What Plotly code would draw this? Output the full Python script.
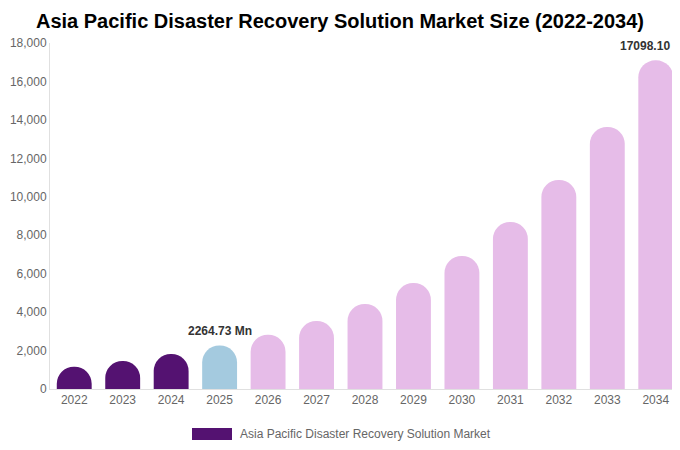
import plotly.graph_objects as go

# market size by year, USD million
years = ["2022", "2023", "2024", "2025", "2026", "2027", "2028",
         "2029", "2030", "2031", "2032", "2033", "2034"]
market_size = [1160, 1457, 1821, 2264.73, 2825, 3538, 4422,
               5515, 6920, 8689, 10874, 13632, 17098.10]

# years that get a value label above the bar
labelled_years = ["2025", "2034"]

series_name = "Asia Pacific Disaster Recovery Solution Market"

# historical years dark purple, base year light blue, forecast pink
bar_colors = []
for y in years:
    if int(y) < 2025:
        bar_colors.append("#541271")
    elif y == "2025":
        bar_colors.append("#A4CADF")
    else:
        bar_colors.append("#E6BCE8")

fig = go.Figure()

fig.add_trace(go.Bar(
    x=years,
    y=market_size,
    name=series_name,
    marker=dict(color=bar_colors, cornerradius="50%", line=dict(width=0)),
    showlegend=False,
    hovertemplate="%{x}: %{y:,.2f} Mn<extra></extra>"
))

# value labels above selected bars (x given as category index, since
# a year string would be read as the number 2025 on the category axis)
for i, (yr, val) in enumerate(zip(years, market_size)):
    if yr in labelled_years:
        fig.add_annotation(
            x=i, y=val, text=f"<b>{val:.2f} Mn</b>",
            showarrow=False, yanchor="bottom", yshift=5,
            font=dict(size=12, color="#333333")
        )

# custom legend: wide swatch plus label below the chart
fig.add_shape(type="rect", xref="paper", yref="paper",
              x0=(192 - 50) / 630, x1=(232 - 50) / 630,
              y0=-(440 - 389) / 346, y1=-(428 - 389) / 346,
              fillcolor="#541271", line=dict(width=0))
fig.add_annotation(xref="paper", yref="paper",
                   x=(238 - 50) / 630, y=-(434 - 389) / 346,
                   text=series_name, showarrow=False,
                   xanchor="left", yanchor="middle",
                   font=dict(size=12, color="#666666"))

# the page body adds an 8px margin, so the figure is sized 8px smaller
fig.update_layout(
    width=672, height=442,
    margin=dict(l=42, r=0, t=35, b=61),
    paper_bgcolor="white", plot_bgcolor="white",
    font=dict(family="Liberation Sans, Arial, sans-serif", color="#666666", size=12),
    title=dict(text="<b>Asia Pacific Disaster Recovery Solution Market Size (2022-2034)</b>",
               x=(340 - 8) / 672, xanchor="center", y=1 - 13 / 442, yanchor="middle",
               font=dict(size=20, color="#000000")),
    bargap=0.28,
    xaxis=dict(type="category", range=[-0.5, len(years) - 0.5],
               showline=True, linecolor="#E0E0E0", linewidth=1,
               ticks="", tickfont=dict(size=12, color="#666666"),
               showgrid=False),
    yaxis=dict(range=[0, 18000], dtick=2000, tickformat=",",
               showline=True, linecolor="#E0E0E0", linewidth=1,
               showgrid=False, zeroline=False, ticks="",
               tickfont=dict(size=12, color="#666666")),
)

fig.write_html("out.html")
